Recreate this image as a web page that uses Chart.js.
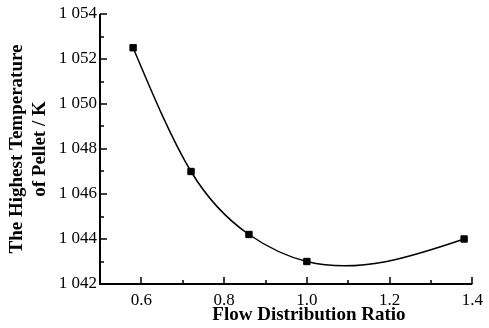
<!DOCTYPE html>
<html>
<head>
<meta charset="utf-8">
<script src="https://cdn.jsdelivr.net/npm/chart.js@4.4.0/dist/chart.umd.min.js"></script>
<style>
  html, body { margin: 0; padding: 0; background: #fff; }
  #wrap { width: 489px; height: 328px; }
</style>
</head>
<body>
<div id="wrap"><canvas id="myChart"></canvas></div>
<script>
var ctx = document.getElementById('myChart');

const ratio = [0.58, 0.72, 0.86, 1.0, 1.38];
const temp = [1052.5, 1047.0, 1044.2, 1043.0, 1044.0];
const xTicks = [0.6, 0.8, 1.0, 1.2, 1.4];
const yTicks = [1042, 1044, 1046, 1048, 1050, 1052, 1054];
const xTitle = 'Flow Distribution Ratio';
const yTitle = ['The Highest Temperature', 'of Pellet / K'];

const serif = 'Liberation Serif';

// second derivatives of a natural cubic spline (Thomas algorithm)
function splineM(xs, ys) {
  const n = xs.length;
  const h = [], s = [];
  for (let i = 0; i < n - 1; i++) {
    h.push(xs[i + 1] - xs[i]);
    s.push((ys[i + 1] - ys[i]) / h[i]);
  }
  const a = [], b = [], c = [], d = [];
  for (let i = 1; i < n - 1; i++) {
    a.push(h[i - 1]);
    b.push(2 * (h[i - 1] + h[i]));
    c.push(h[i]);
    d.push(6 * (s[i] - s[i - 1]));
  }
  const m = b.length;
  for (let i = 1; i < m; i++) {
    const w = a[i] / b[i - 1];
    b[i] -= w * c[i - 1];
    d[i] -= w * d[i - 1];
  }
  const inner = new Array(m);
  inner[m - 1] = d[m - 1] / b[m - 1];
  for (let i = m - 2; i >= 0; i--) inner[i] = (d[i] - c[i] * inner[i + 1]) / b[i];
  return { M: [0].concat(inner, [0]), h: h, s: s };
}

// smooth curve through the data points, each spline piece as a bezier
const splineLine = {
  id: 'splineLine',
  beforeDatasetsDraw(chart) {
    const sx = chart.scales.x, sy = chart.scales.y, g = chart.ctx;
    const sp = splineM(ratio, temp);
    g.save();
    g.beginPath();
    g.lineWidth = 1.5;
    g.strokeStyle = '#000';
    g.moveTo(sx.getPixelForValue(ratio[0]), sy.getPixelForValue(temp[0]));
    for (let i = 0; i < ratio.length - 1; i++) {
      const h = sp.h[i], M0 = sp.M[i], M1 = sp.M[i + 1];
      const d0 = sp.s[i] - h * (2 * M0 + M1) / 6;
      const d1 = sp.s[i] + h * (M0 + 2 * M1) / 6;
      g.bezierCurveTo(
        sx.getPixelForValue(ratio[i] + h / 3), sy.getPixelForValue(temp[i] + d0 * h / 3),
        sx.getPixelForValue(ratio[i + 1] - h / 3), sy.getPixelForValue(temp[i + 1] - d1 * h / 3),
        sx.getPixelForValue(ratio[i + 1]), sy.getPixelForValue(temp[i + 1])
      );
    }
    g.stroke();
    g.restore();
  }
};

// left/bottom axis lines with inward major and minor ticks, plus the x title
const axisFrame = {
  id: 'axisFrame',
  afterDraw(chart) {
    const sx = chart.scales.x, sy = chart.scales.y, g = chart.ctx;
    const a = chart.chartArea;
    g.save();
    g.strokeStyle = '#000';
    g.lineWidth = 2;
    g.beginPath();
    g.moveTo(a.left, a.top);
    g.lineTo(a.left, a.bottom);
    g.lineTo(a.right, a.bottom);
    g.stroke();
    g.lineWidth = 1.5;
    g.beginPath();
    for (let v = sy.min; v <= sy.max + 1e-9; v += 1) {
      const len = (Math.round(v) % 2 === 0) ? 7 : 4;
      const py = Math.round(sy.getPixelForValue(v));
      g.moveTo(a.left, py);
      g.lineTo(a.left + len, py);
    }
    for (let k = 6; k <= 14; k++) {
      const len = (k % 2 === 0) ? 7 : 4;
      const px = Math.round(sx.getPixelForValue(k / 10));
      g.moveTo(px, a.bottom);
      g.lineTo(px, a.bottom - len);
    }
    g.stroke();

    // x title sits a little right of the axis centre
    g.fillStyle = '#000';
    g.font = 'bold 19px "' + serif + '"';
    g.textAlign = 'center';
    g.textBaseline = 'middle';
    g.fillText(xTitle, sx.getPixelForValue(1.005), a.bottom + 31);
    g.restore();
  }
};

var myChart = new Chart(ctx, {
  type: 'scatter',
  data: {
    datasets: [{
      data: ratio.map((x, i) => ({ x: x, y: temp[i] })),
      showLine: false,
      pointStyle: 'rect',
      pointRadius: 4.5,
      pointHoverRadius: 4.5,
      backgroundColor: '#000',
      borderColor: '#000',
      borderWidth: 1
    }]
  },
  options: {
    responsive: true,
    maintainAspectRatio: false,
    animation: false,
    events: [],
    layout: { padding: { top: 14, right: 11, left: 0, bottom: 0 } },
    plugins: {
      legend: { display: false },
      tooltip: { enabled: false }
    },
    scales: {
      x: {
        type: 'linear',
        min: 0.5,
        max: 1.4,
        afterBuildTicks: (scale) => { scale.ticks = xTicks.map(v => ({ value: v })); },
        afterFit: (scale) => { scale.height = 44; },
        grid: { display: false, drawTicks: false },
        border: { display: false },
        ticks: {
          padding: 6,
          color: '#000',
          font: { family: serif, size: 17 },
          callback: (v) => Number(v).toFixed(1)
        },
        title: { display: false }
      },
      y: {
        type: 'linear',
        min: 1042,
        max: 1054,
        afterBuildTicks: (scale) => { scale.ticks = yTicks.map(v => ({ value: v })); },
        afterFit: (scale) => { scale.width = 100; },
        grid: { display: false, drawTicks: false },
        border: { display: false },
        ticks: {
          padding: 3,
          color: '#000',
          font: { family: serif, size: 17 },
          callback: (v) => String(v).replace(/^(\d)(\d{3})$/, '$1 $2')
        },
        title: {
          display: true,
          text: yTitle,
          color: '#000',
          padding: { top: 6, bottom: 0 },
          font: { family: serif, size: 19, weight: 'bold', lineHeight: 1.2 }
        }
      }
    }
  },
  plugins: [splineLine, axisFrame]
});
</script>
</body>
</html>
